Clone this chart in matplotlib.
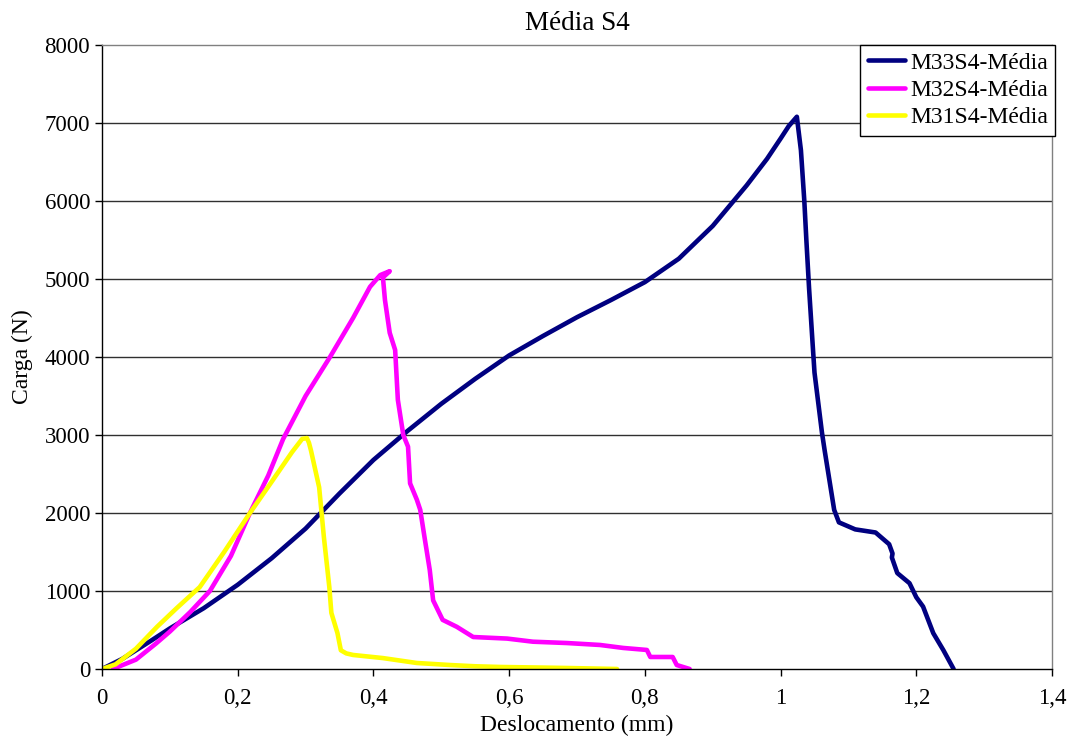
import matplotlib
matplotlib.use("Agg")
import matplotlib.pyplot as plt
from matplotlib.ticker import FixedLocator, FuncFormatter

plt.rcParams['font.family'] = ['Liberation Serif', 'DejaVu Serif']

# M33S4 (navy)
m33_x = [0, 0.03, 0.07, 0.1, 0.15, 0.2, 0.25, 0.3, 0.35, 0.4, 0.45, 0.5, 0.55, 0.6,
         0.65, 0.7, 0.75, 0.8, 0.85, 0.9, 0.95, 0.98, 1.0, 1.012, 1.024, 1.03, 1.035,
         1.038, 1.042, 1.047, 1.05, 1.055, 1.061, 1.065, 1.072, 1.079, 1.086, 1.11,
         1.14, 1.16, 1.165, 1.164, 1.172, 1.19, 1.2, 1.21, 1.225, 1.24, 1.255]
m33_y = [0, 130, 350, 520, 780, 1080, 1420, 1800, 2250, 2680, 3050, 3400, 3720, 4020,
         4270, 4510, 4730, 4960, 5260, 5680, 6200, 6540, 6800, 6960, 7080, 6650, 6000,
         5500, 4880, 4200, 3800, 3450, 3030, 2800, 2420, 2040, 1880, 1790,
         1750, 1600, 1480, 1430, 1230, 1100, 920, 800, 460, 240, 0]

# M32S4 (magenta)
m32_x = [0.016, 0.05, 0.08, 0.1, 0.13, 0.159, 0.19, 0.218, 0.245, 0.267, 0.3, 0.336,
         0.37, 0.395, 0.41, 0.424, 0.414, 0.417, 0.424, 0.432, 0.436,
         0.444, 0.451, 0.454, 0.464, 0.469, 0.476, 0.483, 0.488, 0.502, 0.523, 0.547,
         0.597, 0.635, 0.685, 0.734, 0.768, 0.803, 0.808, 0.841, 0.847, 0.866]
m32_y = [0, 120, 330, 480, 730, 1000, 1450, 2000, 2480, 2950, 3500, 4000,
         4500, 4900, 5050, 5100, 5020, 4730, 4310, 4090, 3450,
         3000, 2850, 2380, 2170, 2040, 1650, 1270, 880, 630, 540, 410,
         390, 350, 333, 308, 270, 244, 154, 154, 51, 0]

# M31S4 (yellow)
m31_x = [0, 0.02, 0.05, 0.081, 0.11, 0.144, 0.18, 0.218, 0.25, 0.28, 0.295, 0.302,
         0.305, 0.308, 0.32, 0.327, 0.335, 0.338, 0.347, 0.352, 0.36, 0.37, 0.414,
         0.464, 0.513, 0.55, 0.587, 0.65, 0.685, 0.759]
m31_y = [0, 60, 260, 540, 780, 1050, 1500, 2000, 2400, 2780, 2950, 2960,
         2900, 2800, 2330, 1690, 1050, 720, 460, 240, 200, 180, 140,
         77, 51, 35, 26, 18, 13, 0]

series = [
    (m33_x, m33_y, '#000080', 'M33S4-Média'),
    (m32_x, m32_y, '#FF00FF', 'M32S4-Média'),
    (m31_x, m31_y, '#FFFF00', 'M31S4-Média'),
]

fig = plt.figure(figsize=(10.74, 7.42), dpi=100)
ax = fig.add_axes([102 / 1074, 73 / 742, 950 / 1074, 624 / 742])

for xs, ys, col, lab in series:
    ax.plot(xs, ys, color=col, lw=3.3, label=lab, solid_capstyle='round',
            solid_joinstyle='round')

ax.set_xlim(0, 1.4)
ax.set_ylim(0, 8000)
ax.xaxis.set_major_locator(FixedLocator([0, 0.2, 0.4, 0.6, 0.8, 1.0, 1.2, 1.4]))
ax.yaxis.set_major_locator(FixedLocator(range(0, 8001, 1000)))
ax.xaxis.set_major_formatter(FuncFormatter(lambda v, p: ('%g' % round(v, 1)).replace('.', ',')))
ax.yaxis.set_major_formatter(FuncFormatter(lambda v, p: '%d' % v))
ax.tick_params(direction='out', length=5, width=1, labelsize=16.5, colors='black')
ax.tick_params(axis='x', pad=9)

for yv in range(1000, 8000, 1000):
    ax.axhline(yv, color='#303030', lw=1, zorder=0.5)

ax.spines['left'].set_color('black')
ax.spines['bottom'].set_color('black')
ax.spines['top'].set_color('#808080')
ax.spines['right'].set_color('#808080')
for s in ax.spines.values():
    s.set_linewidth(1)

ax.set_title('Média S4', fontsize=19.5, pad=11)
ax.set_xlabel('Deslocamento (mm)', fontsize=17, labelpad=4)
ax.set_ylabel('Carga (N)', fontsize=17, labelpad=8)

leg = ax.legend(loc='upper right', bbox_to_anchor=(1055 / 1074, 1 - 45 / 742),
                bbox_transform=fig.transFigure, borderaxespad=0, fontsize=17,
                fancybox=False, framealpha=1, edgecolor='black',
                handlelength=1.6, handletextpad=0.2, labelspacing=0.25,
                borderpad=0.3)
leg.get_frame().set_linewidth(1)

fig.savefig('out.png', dpi=100)
